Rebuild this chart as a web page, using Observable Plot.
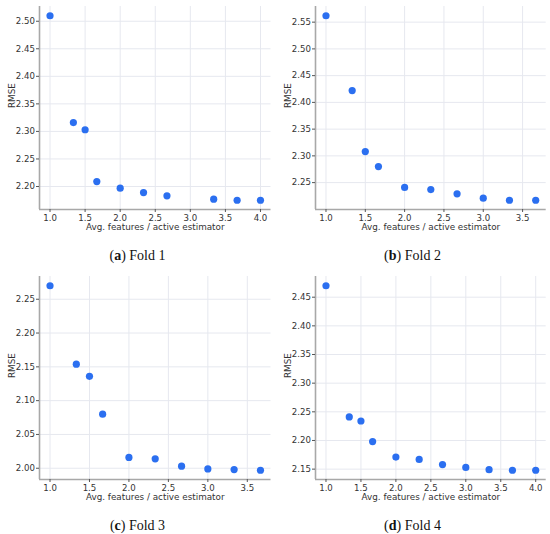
<!DOCTYPE html>
<html><head><meta charset="utf-8">
<script src="https://cdn.jsdelivr.net/npm/d3@7"></script>
<script src="https://cdn.jsdelivr.net/npm/@observablehq/plot@0.6"></script>
<style>
body{margin:0;background:#fff}
#wrap{position:relative;width:550px;height:534px;overflow:hidden}
.panel{position:absolute}
.cap{position:absolute;width:275px;text-align:center;font-family:"Liberation Serif","DejaVu Serif",serif;font-size:14px;line-height:16px;color:#111}
</style></head><body><div id="wrap"></div>
<script>
// Data
const fold1X = [1.0, 1.333, 1.5, 1.667, 2.0, 2.333, 2.667, 3.333, 3.667, 4.0];
const fold1Y = [2.510, 2.316, 2.303, 2.209, 2.197, 2.189, 2.183, 2.177, 2.175, 2.175];
const fold2X = [1.0, 1.333, 1.5, 1.667, 2.0, 2.333, 2.667, 3.0, 3.333, 3.667];
const fold2Y = [2.562, 2.422, 2.308, 2.280, 2.241, 2.237, 2.229, 2.221, 2.217, 2.217];
const fold3X = [1.0, 1.333, 1.5, 1.667, 2.0, 2.333, 2.667, 3.0, 3.333, 3.667];
const fold3Y = [2.270, 2.154, 2.136, 2.080, 2.016, 2.014, 2.003, 1.999, 1.998, 1.997];
const fold4X = [1.0, 1.333, 1.5, 1.667, 2.0, 2.333, 2.667, 3.0, 3.333, 3.667, 4.0];
const fold4Y = [2.470, 2.241, 2.234, 2.198, 2.171, 2.167, 2.158, 2.153, 2.149, 2.148, 2.148];
const letters = ["a", "b", "c", "d"];
const captions = ["Fold 1", "Fold 2", "Fold 3", "Fold 4"];
const xLabel = "Avg. features / active estimator";
const yLabel = "RMSE";
const xTicks = [1.0, 1.5, 2.0, 2.5, 3.0, 3.5, 4.0];
const yTicks1 = [2.20, 2.25, 2.30, 2.35, 2.40, 2.45, 2.50];
const yTicks2 = [2.25, 2.30, 2.35, 2.40, 2.45, 2.50, 2.55];
const yTicks3 = [2.00, 2.05, 2.10, 2.15, 2.20, 2.25];
const yTicks4 = [2.15, 2.20, 2.25, 2.30, 2.35, 2.40, 2.45];

const panels = [
  {xs: fold1X, ys: fold1Y, yt: yTicks1, left: 0, top: 0, ml: 39, mr: 4.5},
  {xs: fold2X, ys: fold2Y, yt: yTicks2, left: 275, top: 0, ml: 40, mr: 4.3},
  {xs: fold3X, ys: fold3Y, yt: yTicks3, left: 0, top: 270, ml: 39, mr: 4.5},
  {xs: fold4X, ys: fold4Y, yt: yTicks4, left: 275, top: 270, ml: 40, mr: 4.3}
];

function pad(ext) { const d = ext[1] - ext[0]; return [ext[0] - 0.05 * d, ext[1] + 0.05 * d]; }

const wrap = document.getElementById("wrap");
const W = 275, H = 238;
panels.forEach((p, i) => {
  const data = p.xs.map((x, k) => ({x, y: p.ys[k]}));
  const xd = pad(d3.extent(p.xs));
  const yd = pad(d3.extent(p.ys));
  const xt = xTicks.filter(t => t >= xd[0] && t <= xd[1]);
  const chart = Plot.plot({
    width: W, height: H,
    marginLeft: p.ml, marginRight: p.mr, marginTop: 6, marginBottom: 29,
    style: {fontFamily: "DejaVu Sans", fontSize: "8.6px", color: "#333", background: "#fff"},
    x: {domain: xd},
    y: {domain: yd},
    marks: [
      Plot.gridX(xt, {stroke: "#e6e8ef", strokeOpacity: 1, strokeWidth: 1}),
      Plot.gridY(p.yt, {stroke: "#e6e8ef", strokeOpacity: 1, strokeWidth: 1}),
      Plot.ruleX([xd[0]], {stroke: "#a8a8a8", strokeWidth: 1.6}),
      Plot.ruleY([yd[0]], {stroke: "#a8a8a8", strokeWidth: 1.6}),
      Plot.axisX(xt, {tickFormat: d3.format(".1f"), tickSize: 3, tickPadding: 2, label: null, stroke: "#555", fill: "#333", fontSize: 8.6}),
      Plot.axisY(p.yt, {tickFormat: d3.format(".2f"), tickSize: 3, tickPadding: 1.5, label: null, stroke: "#555", fill: "#333", fontSize: 8.6}),
      Plot.dot(data, {x: "x", y: "y", r: 3.6, fill: "#2b6ff0", stroke: "none"}),
      Plot.text([xLabel], {frameAnchor: "bottom", dy: 17.5, fontSize: 8.8, fill: "#333", lineAnchor: "middle"}),
      Plot.text([yLabel], {frameAnchor: "left", dx: -27.5, rotate: -90, fontSize: 8.8, fill: "#333", lineAnchor: "middle"})
    ]
  });
  const div = document.createElement("div");
  div.className = "panel";
  div.style.left = p.left + "px";
  div.style.top = p.top + "px";
  div.appendChild(chart);
  wrap.appendChild(div);
  const cap = document.createElement("div");
  cap.className = "cap";
  cap.style.left = (p.left) + "px";
  cap.style.top = (p.top + 248) + "px";
  cap.innerHTML = "(<b>" + letters[i] + "</b>) " + captions[i];
  wrap.appendChild(cap);
});
</script>
</body></html>
